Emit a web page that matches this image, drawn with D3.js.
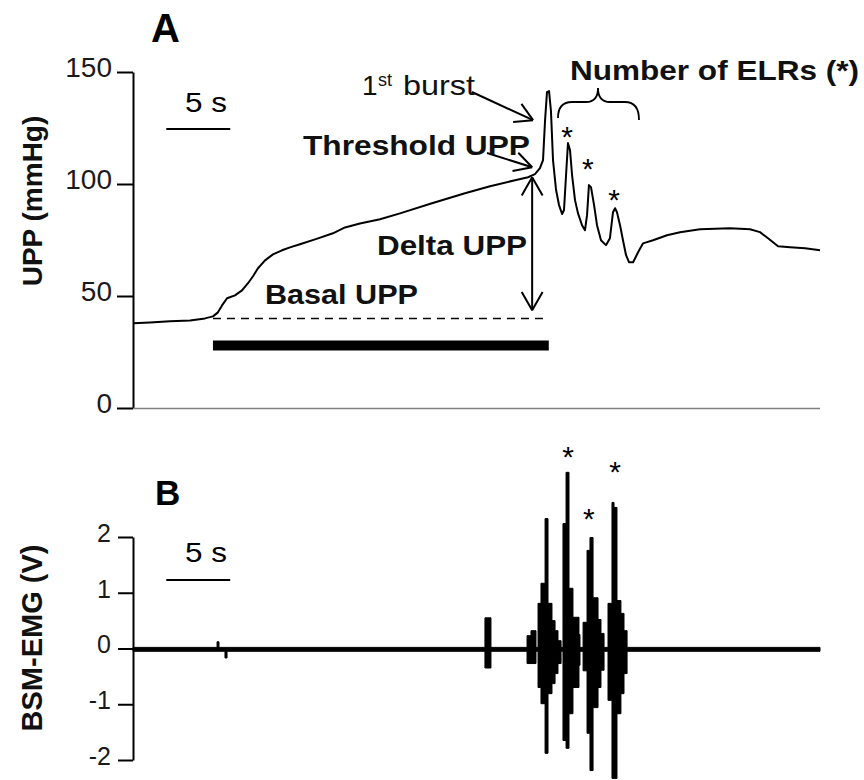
<!DOCTYPE html>
<html>
<head>
<meta charset="utf-8">
<script src="https://cdn.jsdelivr.net/npm/d3@7"></script>
<style>
  body { margin: 0; background: #fff; }
  text { font-family: "Liberation Sans", Arial, sans-serif; }
</style>
</head>
<body>
<script>
// ---- data ----
// panel A: urethral perfusion pressure trace (s, mmHg)
var uppTime = [0, 1.33, 2.89, 4.46, 5.63, 6.25, 6.64, 6.96, 7.35, 7.97, 8.52, 8.99, 9.38, 9.77, 10.32,
  10.94, 11.65, 12.27, 13.05, 14.23, 15.63, 16.57, 17.74, 19.31, 20.87, 23.37, 25.95, 27.91, 29.86, 30.88,
  31.42, 31.81, 32.05, 32.21, 32.36, 32.52, 32.67, 32.83, 33.07, 33.30, 33.54, 33.69, 33.85, 34.00, 34.16,
  34.32, 34.55, 34.78, 35.10, 35.33, 35.49, 35.64, 35.80, 36.04, 36.27, 36.58, 36.97, 37.28, 37.52, 37.68,
  37.83, 38.07, 38.30, 38.54, 38.77, 39.09, 39.48, 39.87, 40.65, 41.74, 42.76, 44.32, 46.67, 48.23, 49.01,
  49.64, 50.42, 51.36, 52.53, 53.70];
var uppValue = [37.8, 38.2, 38.7, 39.1, 40.0, 40.9, 42.7, 45.8, 49.0, 50.3, 52.5, 55.7, 58.8, 62.4, 65.9,
  68.6, 70.4, 71.7, 73.1, 75.3, 78.0, 80.6, 82.4, 84.3, 86.9, 91.4, 95.9, 99.0, 101.7, 103.0,
  104.4, 107.1, 110.7, 128.5, 141.0, 141.5, 132.6, 110.7, 97.3, 90.6, 86.6, 88.4, 104.0, 118.3, 115.1,
  104.0, 92.8, 87.0, 81.6, 79.4, 86.1, 99.5, 98.6, 90.6, 81.6, 74.9, 72.7, 75.8, 87.4, 89.2,
  87.4, 81.6, 74.9, 68.2, 65.1, 65.1, 69.5, 73.5, 74.9, 77.1, 78.5, 79.8, 80.3, 79.8, 78.5,
  75.8, 72.2, 71.8, 71.3, 70.4];
var uppTicks = [0, 50, 100, 150];

// panel B: BSM-EMG envelope (s, upper V, lower V)
var emgTime = [0, 6.57, 6.72, 7.19, 7.35, 27.51, 27.98, 30.80, 31.11, 31.50, 31.66, 31.89, 32.21, 32.44,
  32.75, 32.99, 33.22, 33.46, 33.61, 33.85, 34.08, 34.39, 34.86, 34.94, 35.18, 35.49, 35.72, 35.96, 36.35,
  36.58, 36.82, 37.13, 37.44, 37.60, 37.83, 38.14, 38.38, 38.62, 53.70];
var emgHigh = [0.02, 0.12, 0.02, 0.02, 0.02, 0.55, 0.02, 0.23, 0.32, 0.02, 0.81, 1.17, 2.33, 0.81,
  0.50, 0.32, 0.14, 0.02, 2.24, 3.16, 1.08, 0.56, 0.25, 0.02, 0.47, 1.76, 1.99, 0.91, 0.52,
  0.27, 0.02, 0.81, 2.62, 2.53, 0.86, 0.63, 0.32, 0.02, 0.02];
var emgLow = [-0.05, -0.05, -0.05, -0.17, -0.05, -0.35, -0.05, -0.27, -0.27, -0.05, -0.70, -0.99, -1.88, -0.81,
  -0.63, -0.45, -0.27, -0.05, -1.65, -1.79, -1.17, -0.70, -0.30, -0.05, -0.40, -1.52, -2.19, -1.06, -0.70,
  -0.39, -0.05, -0.93, -2.33, -2.33, -1.17, -0.81, -0.45, -0.05, -0.05];
var emgTicks = [-2, -1, 0, 1, 2];

// events
var basalUPP = 40, thresholdUPP = 103;
var stimStart = 6.25, stimEnd = 32.5;
var elrTimes = [34.0, 35.64, 37.68];

var svg = d3.select("body").append("svg").attr("width", 864).attr("height", 780);

var xScale = d3.scaleLinear().domain([0, 53.7]).range([133, 820]);
var yA = d3.scaleLinear().domain([0, 150]).range([408, 72]);
var yB = d3.scaleLinear().domain([-2, 2]).range([760, 537]);

function styleAxis(g, size) {
  g.select(".domain").attr("stroke", "#000").attr("stroke-width", 2);
  g.selectAll(".tick line").attr("stroke", "#000").attr("stroke-width", 2);
  g.selectAll(".tick text").attr("font-size", size).attr("fill", "#1a1a1a")
    .attr("font-family", "'Liberation Sans', Arial, sans-serif").attr("dy", "0.17em");
}

function arrowHead(g, tip, from, len, ang) {
  var a = Math.atan2(from[1] - tip[1], from[0] - tip[0]);
  [a - ang, a + ang].forEach(function (b) {
    g.append("line").attr("x1", tip[0]).attr("y1", tip[1])
      .attr("x2", tip[0] + len * Math.cos(b)).attr("y2", tip[1] + len * Math.sin(b));
  });
}

// ---------- panel A ----------
var axA = svg.append("g").attr("transform", "translate(133,0)")
  .call(d3.axisLeft(yA).tickValues(uppTicks).tickSize(16).tickSizeOuter(0).tickPadding(5));
styleAxis(axA, 28);

svg.append("line")
  .attr("x1", xScale(0)).attr("x2", xScale(53.7))
  .attr("y1", yA(0) + 0.5).attr("y2", yA(0) + 0.5)
  .attr("stroke", "#808080").attr("stroke-width", 1.5);

var uppData = uppTime.map(function (t, i) { return { t: t, v: uppValue[i] }; });
svg.append("path").datum(uppData)
  .attr("fill", "none").attr("stroke", "#000").attr("stroke-width", 2)
  .attr("stroke-linejoin", "round")
  .attr("d", d3.line().x(function (d) { return xScale(d.t); }).y(function (d) { return yA(d.v); }));

// basal line + stimulation bar
svg.append("line")
  .attr("x1", xScale(stimStart)).attr("x2", xScale(stimEnd))
  .attr("y1", yA(basalUPP)).attr("y2", yA(basalUPP))
  .attr("stroke", "#000").attr("stroke-width", 1.5).attr("stroke-dasharray", "8,6");
svg.append("line")
  .attr("x1", xScale(stimStart)).attr("x2", xScale(stimEnd))
  .attr("y1", yA(27.9)).attr("y2", yA(27.9))
  .attr("stroke", "#000").attr("stroke-width", 10);

// scale bar
function scaleBar(y, ty) {
  svg.append("line").attr("x1", xScale(2.6)).attr("x2", xScale(7.6))
    .attr("y1", y).attr("y2", y).attr("stroke", "#000").attr("stroke-width", 2);
  svg.append("text").attr("x", 185).attr("y", ty).attr("font-size", 28)
    .attr("textLength", 42).attr("lengthAdjust", "spacingAndGlyphs").text("5 s");
}
scaleBar(129, 112);

// arrows
var arr = svg.append("g").attr("stroke", "#000").attr("stroke-width", 2).attr("fill", "none");
var dx = xScale(31.2);
arr.append("line").attr("x1", dx).attr("x2", dx).attr("y1", yA(thresholdUPP)).attr("y2", yA(43.6));
arrowHead(arr, [dx, yA(thresholdUPP)], [dx, yA(43.6)], 21, 0.52);
arrowHead(arr, [dx, yA(43.6)], [dx, yA(thresholdUPP)], 21, 0.52);

var tipBurst = [xScale(31.27), yA(128.5)], fromBurst = [472, 92];
arr.append("line").attr("x1", fromBurst[0]).attr("y1", fromBurst[1]).attr("x2", tipBurst[0]).attr("y2", tipBurst[1]);
arrowHead(arr, tipBurst, fromBurst, 20, 0.52);

var tipThr = [xScale(31.2), yA(107.5)], fromThr = [487, 153];
arr.append("line").attr("x1", fromThr[0]).attr("y1", fromThr[1]).attr("x2", tipThr[0]).attr("y2", tipThr[1]);
arrowHead(arr, tipThr, fromThr, 20, 0.5);

// brace
arr.append("path").attr("stroke-width", 1.8)
  .attr("d", "M558,118 Q558,102 572,102 L586,102 Q598,102 598,88 Q598,102 610,102 L625,102 Q639,102 639,120");

// labels
function boldLabel(txt, x, y, len) {
  svg.append("text").attr("x", x).attr("y", y).attr("font-size", 28).attr("font-weight", "bold")
    .attr("fill", "#111").attr("textLength", len).attr("lengthAdjust", "spacingAndGlyphs").text(txt);
}
boldLabel("Number of ELRs (*)", 570, 80, 289);
boldLabel("Threshold UPP", 303, 155, 227);
boldLabel("Delta UPP", 377, 255, 150);
boldLabel("Basal UPP", 265, 304, 153);

svg.append("text").attr("x", 362).attr("y", 95).attr("font-size", 28).attr("fill", "#111").text("1");
svg.append("text").attr("x", 378).attr("y", 86).attr("font-size", 18).attr("fill", "#111").text("st");
svg.append("text").attr("x", 403).attr("y", 95).attr("font-size", 28).attr("fill", "#111")
  .attr("textLength", 72).attr("lengthAdjust", "spacingAndGlyphs").text("burst");

svg.append("text").attr("x", 151).attr("y", 42).attr("font-size", 40).attr("font-weight", "bold").text("A");
svg.append("text").attr("transform", "translate(42,201) rotate(-90)").attr("text-anchor", "middle")
  .attr("font-size", 28).attr("font-weight", "bold").attr("fill", "#111").text("UPP (mmHg)");

var astA = [130, 162, 193];
elrTimes.forEach(function (t, i) {
  svg.append("text").attr("x", xScale(t) - 1).attr("y", astA[i] + 17).attr("text-anchor", "middle")
    .attr("font-size", 30).text("*");
});

// ---------- panel B ----------
var axB = svg.append("g").attr("transform", "translate(133,0)")
  .call(d3.axisLeft(yB).tickValues(emgTicks).tickSize(15).tickSizeOuter(0).tickPadding(7)
    .tickFormat(function (d) { return String(d); }));
styleAxis(axB, 25);

var emgData = emgTime.map(function (t, i) { return { t: t, hi: emgHigh[i], lo: emgLow[i] }; });
svg.append("path").datum(emgData)
  .attr("fill", "#000").attr("stroke", "#000").attr("stroke-width", 1)
  .attr("d", d3.area().curve(d3.curveStepAfter)
    .x(function (d) { return xScale(d.t); })
    .y0(function (d) { return yB(d.lo); })
    .y1(function (d) { return yB(d.hi); }));

scaleBar(580, 562);

svg.append("text").attr("x", 155).attr("y", 505).attr("font-size", 35).attr("font-weight", "bold").text("B");
svg.append("text").attr("transform", "translate(42,638) rotate(-90)").attr("text-anchor", "middle")
  .attr("font-size", 29).attr("font-weight", "bold").attr("fill", "#111").text("BSM-EMG (V)");

var astB = [450, 512, 465];
elrTimes.forEach(function (t, i) {
  svg.append("text").attr("x", xScale(t)).attr("y", astB[i] + 17).attr("text-anchor", "middle")
    .attr("font-size", 30).text("*");
});
</script>
</body>
</html>
